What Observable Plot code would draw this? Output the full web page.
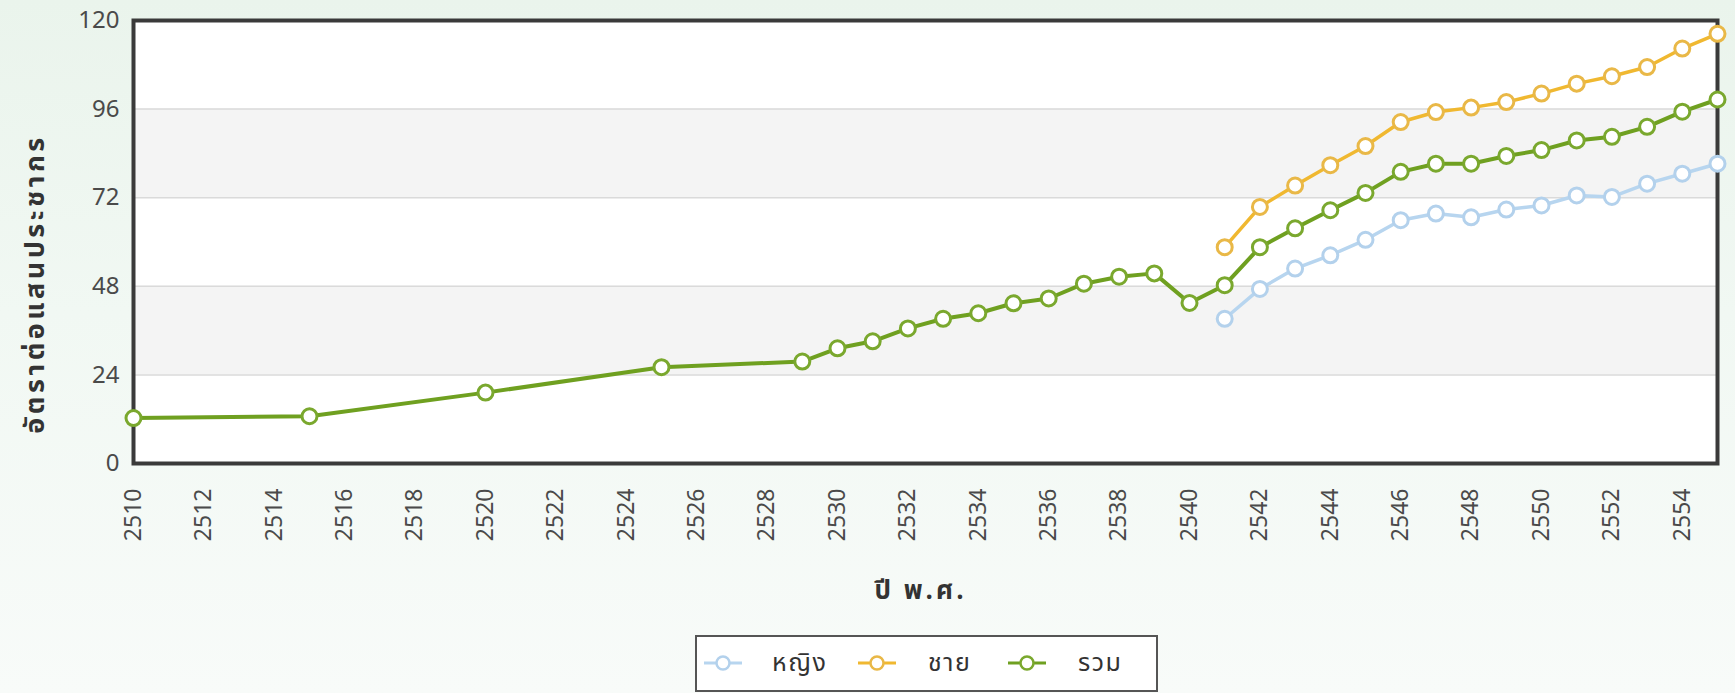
<!DOCTYPE html>
<html>
<head>
<meta charset="utf-8">
<script src="https://cdn.jsdelivr.net/npm/d3@7"></script>
<script src="https://cdn.jsdelivr.net/npm/@observablehq/plot@0.6"></script>
<style>
  html, body { margin: 0; padding: 0; }
  body {
    width: 1735px; height: 693px; overflow: hidden; position: relative;
    background: linear-gradient(to bottom, #eaf4ec 0%, #f1f8f3 45%, #f8fbf9 100%);
    font-family: Tahoma, "Noto Sans Thai", "Loma", "Garuda", "Noto Sans", "DejaVu Sans", sans-serif;
  }
  #chart { position: absolute; left: 0; top: 0; }
  #legend {
    position: absolute; left: 695px; top: 635px; width: 459px; height: 53px;
    border: 2px solid #555; background: #fff; box-sizing: content-box;
    font-size: 25px; color: #333;
  }
  #legend svg { position: absolute; top: 16px; display: block; }
  #legend span { position: absolute; top: 50%; transform: translateY(-52%); letter-spacing: 1.5px; }
</style>
</head>
<body>
<div id="chart"></div>
<div id="legend"></div>
<script>
// ---- data ----
const seriesNames = ["หญิง", "ชาย", "รวม"];
const seriesColors = ["#b7d5ef", "#f0b830", "#6fa020"];
const dotStrokes  = ["#b3d1ec", "#e9b847", "#7aa82e"];

const yearsTotal = [2510, 2515, 2520, 2525, 2529, 2530, 2531, 2532, 2533, 2534, 2535, 2536, 2537, 2538, 2539, 2540,
                    2541, 2542, 2543, 2544, 2545, 2546, 2547, 2548, 2549, 2550, 2551, 2552, 2553, 2554, 2555];
const total = [12.3, 12.8, 19.2, 26.1, 27.6, 31.2, 33.1, 36.6, 39.2, 40.7, 43.4, 44.7, 48.7, 50.6, 51.5, 43.5,
               48.3, 58.6, 63.7, 68.6, 73.3, 79.0, 81.2, 81.2, 83.3, 84.9, 87.5, 88.5, 91.2, 95.3, 98.6];

const yearsSex = [2541, 2542, 2543, 2544, 2545, 2546, 2547, 2548, 2549, 2550, 2551, 2552, 2553, 2554, 2555];
const male   = [58.6, 69.5, 75.3, 80.8, 86.0, 92.5, 95.2, 96.4, 97.9, 100.2, 102.9, 104.9, 107.4, 112.4, 116.4];
const female = [39.2, 47.3, 52.8, 56.4, 60.6, 65.9, 67.7, 66.7, 68.8, 69.9, 72.6, 72.2, 75.8, 78.5, 81.2];

const xTicks = [2510, 2512, 2514, 2516, 2518, 2520, 2522, 2524, 2526, 2528, 2530, 2532, 2534, 2536, 2538,
                2540, 2542, 2544, 2546, 2548, 2550, 2552, 2554];
const yTicks = [0, 24, 48, 72, 96, 120];
const bandLo = [24, 72];
const bandHi = [48, 96];
const gridLines = [24, 48, 72, 96];

const xTitle = "ปี พ.ศ.";
const yTitle = "อัตราต่อแสนประชากร";

// ---- build tables ----
const rows = [];
yearsSex.forEach((yr, i) => rows.push({year: yr, value: female[i], s: seriesNames[0], k: 0}));
yearsSex.forEach((yr, i) => rows.push({year: yr, value: male[i], s: seriesNames[1], k: 1}));
yearsTotal.forEach((yr, i) => rows.push({year: yr, value: total[i], s: seriesNames[2], k: 2}));
const bands = bandLo.map((lo, i) => ({lo, hi: bandHi[i]}));

const seriesMarks = [];
[0, 1, 2].forEach(k => {
  const d = rows.filter(r => r.k === k);
  seriesMarks.push(Plot.line(d, {x: "year", y: "value", stroke: seriesColors[k], strokeWidth: k === 2 ? 4 : 3.5}));
});
[0, 1, 2].forEach(k => {
  const d = rows.filter(r => r.k === k);
  seriesMarks.push(Plot.dot(d, {x: "year", y: "value", r: 7.5, fill: "white", stroke: dotStrokes[k], strokeWidth: 3}));
});

const chart = Plot.plot({
  width: 1735,
  height: 630,
  marginLeft: 133,
  marginRight: 18,
  marginTop: 20,
  marginBottom: 167,
  style: {background: "transparent", overflow: "visible", fontFamily: 'Tahoma, "Noto Sans Thai", "DejaVu Sans", sans-serif', color: "#444"},
  x: {domain: [2510, 2555]},
  y: {domain: [0, 120]},
  marks: [
    Plot.frame({fill: "white"}),
    Plot.rect(bands, {y1: "lo", y2: "hi", fill: "#f4f4f4"}),
    Plot.ruleY(gridLines, {stroke: "#dadada", strokeWidth: 1.5}),
    Plot.axisX({ticks: xTicks, tickFormat: d => String(d), tickRotate: -90, tickSize: 0, tickPadding: 25,
                fontSize: 23, fill: "#4a4a4a", label: null}),
    Plot.axisY({ticks: yTicks, tickSize: 0, tickPadding: 14, fontSize: 24, fill: "#4a4a4a", label: null}),
    Plot.text([yTitle], {text: d => d, frameAnchor: "left", textAnchor: "middle", lineAnchor: "middle",
                         rotate: -90, dx: -98, dy: 42, fontSize: 27, fontWeight: "bold", fill: "#333"}),
    Plot.text([xTitle], {text: d => d, frameAnchor: "bottom", textAnchor: "middle", lineAnchor: "middle",
                         dx: -5, dy: 127, fontSize: 26, fontWeight: "bold", fill: "#333"}),
    Plot.frame({stroke: "#3a3a3a", strokeWidth: 4}),
    ...seriesMarks
  ]
});
document.getElementById("chart").appendChild(chart);
// letter-spacing on the title texts
d3.select(chart).selectAll("text").filter(function () {
  return this.textContent === yTitle;
}).style("letter-spacing", "3.5px");
d3.select(chart).selectAll("text").filter(function () {
  return this.textContent === xTitle;
}).style("letter-spacing", "3px");

// ---- legend ----
const legend = document.getElementById("legend");
const swatchLeft = [6, 160, 310];
const textLeft = [75, 231, 381];
seriesNames.forEach((name, k) => {
  legend.insertAdjacentHTML("beforeend",
    `<svg width="40" height="20" style="left:${swatchLeft[k]}px"><line x1="1" y1="10" x2="39" y2="10" stroke="${seriesColors[k]}" stroke-width="3"/>` +
    `<circle cx="20" cy="10" r="6.5" fill="white" stroke="${dotStrokes[k]}" stroke-width="2.5"/></svg>` +
    `<span style="left:${textLeft[k]}px">${name}</span>`);
});
</script>
</body>
</html>
